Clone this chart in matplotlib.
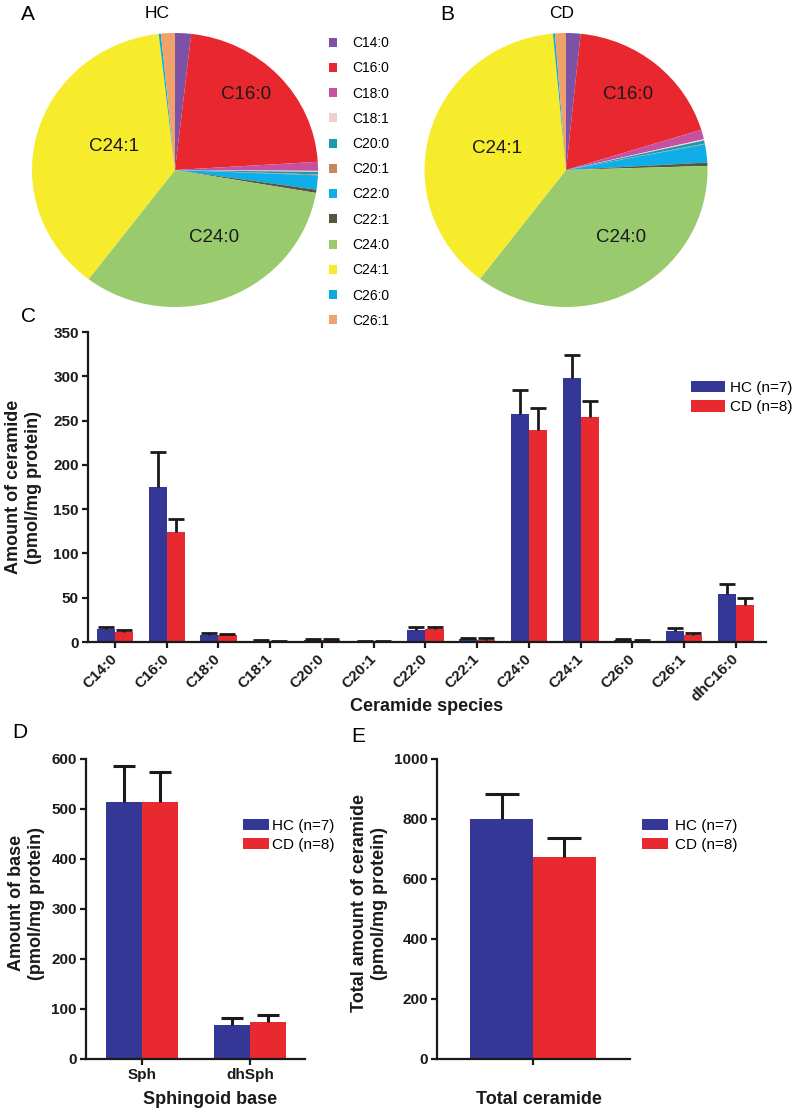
import matplotlib
matplotlib.use('Agg')
import matplotlib.pyplot as plt
import numpy as np
from matplotlib.patches import Patch

plt.rcParams['font.family'] = ['Liberation Sans', 'DejaVu Sans']

# ---------------- data ----------------
species = ['C14:0', 'C16:0', 'C18:0', 'C18:1', 'C20:0', 'C20:1', 'C22:0',
           'C22:1', 'C24:0', 'C24:1', 'C26:0', 'C26:1', 'dhC16:0']
hc_mean = [14.3, 175, 8.3, 1.0, 2.3, 0.8, 13.2, 3.0, 257, 298, 1.9, 12.4, 54.6]
hc_err = [3.0, 39, 2.2, 0.8, 1.5, 0.5, 3.4, 1.5, 27, 26, 1.9, 3.4, 10.4]
cd_mean = [11.0, 124, 7.5, 1.0, 2.5, 0.5, 14.3, 2.6, 239, 254, 1.5, 8.3, 41.8]
cd_err = [2.5, 15, 1.9, 0.5, 1.3, 0.3, 2.7, 1.7, 25, 18, 1.1, 1.9, 7.9]

pie_species = species[:12]
pie_hc = hc_mean[:12]
pie_cd = cd_mean[:12]
pie_colors = ['#7B52A6', '#E8282E', '#C850A0', '#F2CDD0', '#1A9AB0', '#C8875A',
              '#10AEE8', '#55583F', '#9ACA6E', '#F7EC2C', '#0CA8D8', '#EFA26A']
pie_labelled = ['C16:0', 'C24:1', 'C24:0']

base_types = ['Sph', 'dhSph']
base_hc_mean = [514, 69]
base_hc_err = [72, 13]
base_cd_mean = [514, 74]
base_cd_err = [60, 14]

total_types = ['Total ceramide']
total_hc_mean = [800]
total_hc_err = [85]
total_cd_mean = [673]
total_cd_err = [64]

groups = ['HC (n=7)', 'CD (n=8)']
BLUE = '#343795'
RED = '#E8292F'

W, H = 792, 1110
fig = plt.figure(figsize=(W / 100, H / 100), dpi=100)


def rect(l, t, r, b):
    return [l / W, 1 - b / H, (r - l) / W, (b - t) / H]


# ---------------- pies ----------------
def draw_pie(r, vals, label_pos):
    ax = fig.add_axes(r)
    wedges, _ = ax.pie(vals, colors=pie_colors, startangle=90, counterclock=False,
                       wedgeprops=dict(linewidth=0))
    ax.set_aspect('auto')
    ax.set_xlim(-1, 1)
    ax.set_ylim(-1, 1)
    ax.axis('off')
    for lab, (x, y) in zip(pie_labelled, label_pos):
        ax.text(x, y, lab, ha='center', va='center', fontsize=13.5, color='#1a1a1a')
    return wedges


draw_pie(rect(32, 33, 318, 307), pie_hc,
         [(0.50, 0.55), (-0.43, 0.17), (0.27, -0.49)])
draw_pie(rect(424.5, 33, 707.5, 307), pie_cd,
         [(0.44, 0.55), (-0.49, 0.16), (0.39, -0.49)])

fig.text(157 / W, 1 - 14 / H, 'HC', ha='center', va='center', fontsize=12.5)
fig.text(562 / W, 1 - 14 / H, 'CD', ha='center', va='center', fontsize=12.5)

fig.legend(handles=[Patch(facecolor=c, edgecolor='none') for c in pie_colors],
           labels=pie_species, loc='upper left',
           bbox_to_anchor=(329 / W, 1 - 36 / H), frameon=False, fontsize=10,
           handlelength=0.6, handleheight=0.6, handletextpad=1.1,
           labelspacing=0.81, borderpad=0, borderaxespad=0)

# panel letters
for letter, (x, y) in zip('ABCDE', [(28, 14), (447, 14), (28, 317), (20, 733), (358, 737)]):
    fig.text(x / W, 1 - y / H, letter, ha='center', va='center', fontsize=15)


def style_axes(ax):
    for s in ['top', 'right']:
        ax.spines[s].set_visible(False)
    for s in ['left', 'bottom']:
        ax.spines[s].set_linewidth(1.6)
        ax.spines[s].set_color('#1a1a1a')
    ax.tick_params(axis='both', width=1.6, length=4.5, color='#1a1a1a',
                   labelsize=11, pad=2)
    for t in ax.get_yticklabels() + ax.get_xticklabels():
        t.set_fontweight('bold')
        t.set_color('#1a1a1a')


def bar_legend(anchor, hl, tp, ls):
    handles = [Patch(facecolor=BLUE, edgecolor='none'), Patch(facecolor=RED, edgecolor='none')]
    fig.legend(handles=handles, labels=groups, loc='upper left',
               bbox_to_anchor=anchor, frameon=False, fontsize=11,
               handlelength=hl, handleheight=0.75, handletextpad=tp,
               labelspacing=ls, borderpad=0, borderaxespad=0)


def upper_bars(ax, xpos, means, errs, width, color, capsize, lw):
    z = np.zeros(len(means))
    bc = ax.bar(xpos, means, width, color=color, yerr=[z, errs], capsize=capsize,
                error_kw=dict(elinewidth=lw, capthick=lw, ecolor='#1a1a1a'))
    # show only the upper cap (one-sided SEM bars)
    for cl in bc.errorbar.lines[1]:
        if np.allclose(cl.get_ydata(), means):
            cl.set_visible(False)
    return bc


# ---------------- panel C ----------------
axC = fig.add_axes(rect(88, 332, 766, 642))
x = np.arange(len(species))
w = 0.35
upper_bars(axC, x - w / 2, hc_mean, hc_err, w, BLUE, 5.5, 2.0)
upper_bars(axC, x + w / 2, cd_mean, cd_err, w, RED, 5.5, 2.0)
axC.set_xlim(-0.52, 12.58)
axC.set_ylim(0, 350)
axC.set_yticks(np.arange(0, 351, 50))
axC.set_xticks(x)
axC.set_xticklabels(species, rotation=45, ha='right', va='center', rotation_mode='anchor')
style_axes(axC)
axC.tick_params(axis='x', pad=6)
axC.set_xlabel('Ceramide species', fontsize=13, fontweight='bold', color='#1a1a1a')
axC.xaxis.set_label_coords(0.5, -0.182)
axC.set_ylabel('Amount of ceramide\n(pmol/mg protein)', fontsize=13, fontweight='bold',
               color='#1a1a1a')
axC.yaxis.set_label_coords(-0.068, 0.5)
bar_legend((691 / W, 1 - 381 / H), 2.2, 0.35, 0.35)

# ---------------- panel D ----------------
axD = fig.add_axes(rect(86, 759, 305, 1059))
xd = np.arange(len(base_types))
wd = 0.333
upper_bars(axD, xd - wd / 2, base_hc_mean, base_hc_err, wd, BLUE, 8, 2.2)
upper_bars(axD, xd + wd / 2, base_cd_mean, base_cd_err, wd, RED, 8, 2.2)
axD.set_xlim(-0.52, 1.51)
axD.set_ylim(0, 600)
axD.set_yticks(np.arange(0, 601, 100))
axD.set_xticks(xd)
axD.set_xticklabels(base_types)
style_axes(axD)
axD.set_xlabel('Sphingoid base', fontsize=13, fontweight='bold', color='#1a1a1a')
axD.xaxis.set_label_coords(0.566, -0.105)
axD.set_ylabel('Amount of base\n(pmol/mg protein)', fontsize=13, fontweight='bold',
               color='#1a1a1a')
axD.yaxis.set_label_coords(-0.187, 0.52)
bar_legend((243 / W, 1 - 819 / H), 1.7, 0.2, 0.3)

# ---------------- panel E ----------------
axE = fig.add_axes(rect(437, 759, 630, 1059))
xe = np.arange(len(total_types))
we = 1.0
upper_bars(axE, xe - we / 2, total_hc_mean, total_hc_err, we, BLUE, 12.5, 2.2)
upper_bars(axE, xe + we / 2, total_cd_mean, total_cd_err, we, RED, 12.5, 2.2)
axE.set_xlim(-1.524, 1.54)
axE.set_ylim(0, 1000)
axE.set_yticks(np.arange(0, 1001, 200))
axE.set_xticks(xe)
axE.set_xticklabels([''])
style_axes(axE)
axE.set_xlabel(total_types[0], fontsize=13, fontweight='bold', color='#1a1a1a')
axE.xaxis.set_label_coords(0.528, -0.105)
axE.set_ylabel('Total amount of ceramide\n(pmol/mg protein)', fontsize=13, fontweight='bold',
               color='#1a1a1a')
axE.yaxis.set_label_coords(-0.254, 0.52)
bar_legend((642 / W, 1 - 819 / H), 1.7, 0.45, 0.3)

fig.savefig('out.png', dpi=100)
